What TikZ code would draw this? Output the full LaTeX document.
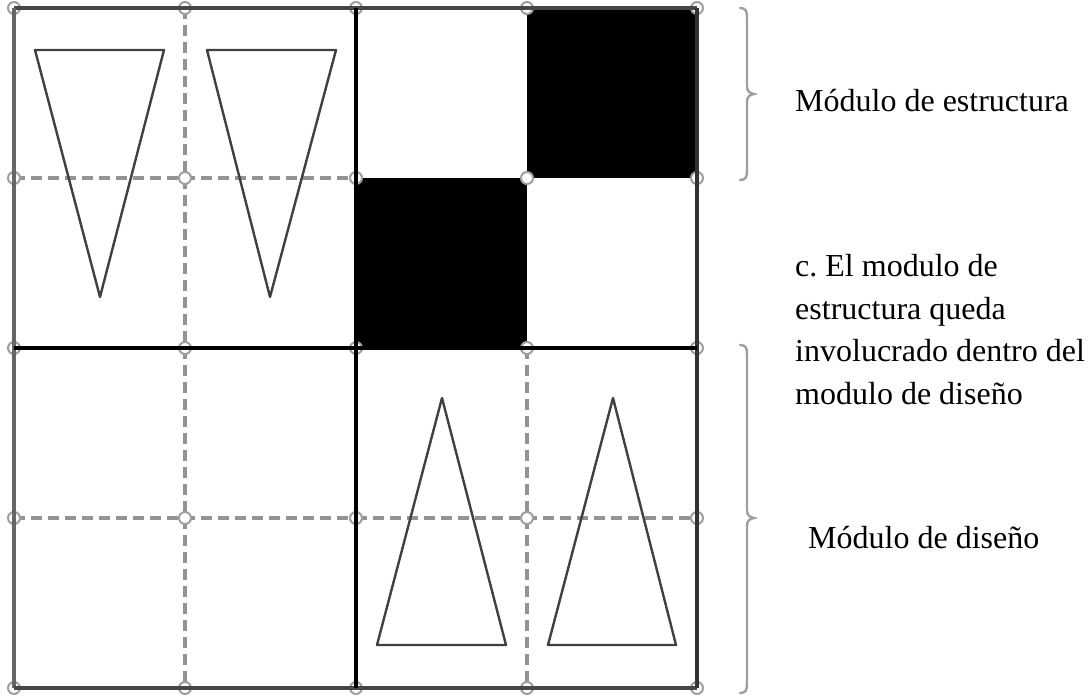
\documentclass[tikz,border=0pt]{standalone}
\usepackage{fontspec}
\setmainfont{Liberation Serif}
\begin{document}
\begin{tikzpicture}[x=1pt,y=-1pt,
  dashgrid/.style={draw=gray!85, line width=3.2pt, dash pattern=on 11pt off 6pt},
  outer/.style={draw=black!72, line width=3.6pt},
  inner/.style={draw=black, line width=3.6pt},
  joint/.style={draw=gray!75, fill=white, line width=2pt},
  tri/.style={draw=black!75, line width=2.4pt, line join=round},
  bracestyle/.style={draw=gray!75, line width=2.4pt, line cap=round},
  lbl/.style={anchor=base west, inner sep=0pt, font=\fontsize{32}{42.5}\selectfont, align=left}]
\useasboundingbox (0,0) rectangle (1089,696);
% black squares
\fill[black] (527,8) rectangle (697,178);
\fill[black] (356,178) rectangle (527,348);
% dashed grid lines
\draw[dashgrid] (185,8) -- (185,348);
\draw[dashgrid] (14,178) -- (356,178);
\draw[dashgrid] (185,348) -- (185,688);
\draw[dashgrid] (14,518) -- (356,518);
\draw[dashgrid] (527,348) -- (527,688);
\draw[dashgrid] (356,518) -- (697,518);
% joints
\foreach \x in {14,185,356,527,697}
  \foreach \y in {8,178,348,518,688}
    \draw[joint] (\x,\y) circle (6);
% solid lines
\draw[outer] (14,8) -- (697,8);
\draw[draw=black!60, line width=3.6pt] (14,8) -- (14,688);
\draw[outer] (14,688) -- (697,688);
\draw[draw=black!80, line width=3.6pt] (697,8) -- (697,688);
\draw[inner] (356,8) -- (356,688);
\draw[inner] (14,348) -- (697,348);
% triangles
\draw[tri] (35,50) -- (164,50) -- (100,297) -- cycle;
\draw[tri] (207,50) -- (336,50) -- (270,297) -- cycle;
\draw[tri] (442,398) -- (506,645) -- (377,645) -- cycle;
\draw[tri] (613,398) -- (676,645) -- (548,645) -- cycle;
% braces
\draw[bracestyle] (740,8) .. controls (746,8) and (747,11) .. (747,18) -- (747,86)
  .. controls (747,91) and (749,93) .. (754,94) .. controls (749,95) and (747,97) .. (747,102)
  -- (747,170) .. controls (747,177) and (746,180) .. (740,180);
\draw[bracestyle] (740,345) .. controls (746,345) and (747,348) .. (747,355) -- (747,510)
  .. controls (747,515) and (749,517) .. (754,518) .. controls (749,519) and (747,521) .. (747,526)
  -- (747,683) .. controls (747,690) and (746,693) .. (740,693);
% labels
\node[lbl] (est) at (795,111) {Módulo de estructura};
\node[lbl] (desc) at (795,404) {c.\ El modulo de\\estructura queda\\involucrado dentro del\\modulo de diseño};
\node[lbl] (dis) at (808,548) {Módulo de diseño};
\end{tikzpicture}
\end{document}
